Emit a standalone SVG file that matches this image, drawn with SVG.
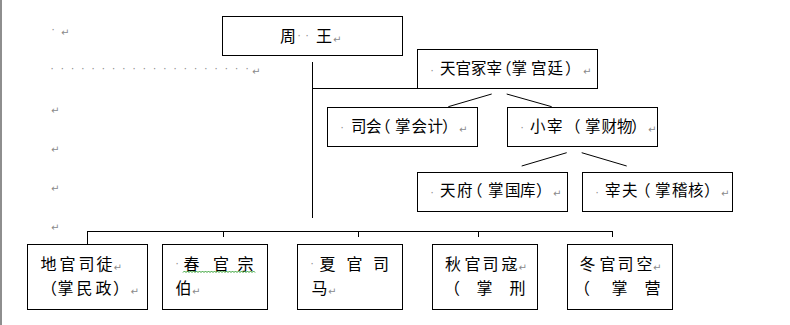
<svg xmlns="http://www.w3.org/2000/svg" width="790" height="325" viewBox="0 0 790 325">
<style>
.box{fill:#fff;stroke:#000;stroke-width:1}
.ln{stroke:#000;stroke-width:1;fill:none}
.t{font-family:"Noto Sans CJK SC","Noto Sans CJK JP",sans-serif;font-size:15.5px;fill:#000}
.b{font-family:"Noto Sans CJK SC","Noto Sans CJK JP",sans-serif;font-size:16px;fill:#000}
.m{font-family:"DejaVu Sans",sans-serif;font-size:10px;fill:#8a8a8a}
</style>
<rect width="790" height="325" fill="#fff"/>
<rect x="0" y="0" width="2" height="325" fill="#8e8e8e"/>

<g id="margin-marks">
<text class="m"><tspan x="51.4" y="32.6">·</tspan><tspan x="61" y="36">↵</tspan></text>
<text class="m" y="71.6" x="50.4 60.7 70.9 81.2 91.4 101.7 112 122.2 132.5 142.7 153 163.3 173.5 183.8 194 204.3 214.6 224.8 235.1 245.4">····················<tspan x="252" y="75">↵</tspan></text>
<text class="m" x="51" y="114">↵</text>
<text class="m" x="51" y="153">↵</text>
<text class="m" x="51" y="192">↵</text>
<text class="m" x="51" y="231">↵</text>
</g>

<g id="connectors">
<line class="ln" x1="312.5" y1="62" x2="312.5" y2="218"/>
<line class="ln" x1="312" y1="88.5" x2="417" y2="88.5"/>
<line class="ln" x1="491.7" y1="94" x2="448.3" y2="106.7"/>
<line class="ln" x1="506.7" y1="94" x2="551.7" y2="106.7"/>
<line class="ln" x1="566.7" y1="152.7" x2="521.7" y2="166"/>
<line class="ln" x1="581.7" y1="152.7" x2="626.7" y2="166"/>
<line class="ln" x1="87" y1="231.5" x2="613" y2="231.5"/>
<line class="ln" x1="87.5" y1="231" x2="87.5" y2="244"/>
<line class="ln" x1="223.5" y1="231" x2="223.5" y2="237"/>
<line class="ln" x1="358.5" y1="231" x2="358.5" y2="237"/>
<line class="ln" x1="478.5" y1="231" x2="478.5" y2="237"/>
<line class="ln" x1="612.5" y1="231" x2="612.5" y2="237"/>
</g>

<g id="zhouwang">
<rect class="box" x="222.5" y="16.5" width="180" height="39"/>
<text><tspan class="b" x="280" y="42">周</tspan><tspan class="m" x="297.4 305.4" y="38.6">··</tspan><tspan class="b" x="316" y="42">王</tspan><tspan class="m" x="333" y="43">↵</tspan></text>
</g>

<g id="tianguan">
<rect class="box" x="417.5" y="49.5" width="180" height="39"/>
<text><tspan class="m" x="430.4" y="73.6">·</tspan><tspan class="t" x="440 455.5 471 486.5 496 511.5 531 547.5 565" y="74">天官冢宰（掌宫廷）</tspan><tspan class="m" x="583" y="75">↵</tspan></text>
</g>

<g id="sihui">
<rect class="box" x="327.5" y="107.5" width="150" height="39"/>
<text><tspan class="m" x="340.4" y="130.6">·</tspan><tspan class="t" x="351 366 375 395 411.5 427.5 442" y="132">司会（掌会计）</tspan><tspan class="m" x="459" y="133">↵</tspan></text>
</g>

<g id="xiaozai">
<rect class="box" x="507.5" y="107.5" width="150" height="39"/>
<text><tspan class="m" x="520.4" y="130.6">·</tspan><tspan class="t" x="530 547 565 585 601.5 617 631" y="132">小宰（掌财物）</tspan><tspan class="m" x="648" y="133">↵</tspan></text>
</g>

<g id="tianfu">
<rect class="box" x="417.5" y="172.5" width="150" height="39"/>
<text><tspan class="m" x="430.4" y="195.6">·</tspan><tspan class="t" x="440 457 467 488 505 520 536" y="196">天府（掌国库）</tspan><tspan class="m" x="553" y="197">↵</tspan></text>
</g>

<g id="zaifu">
<rect class="box" x="582.5" y="172.5" width="150" height="39"/>
<text><tspan class="m" x="595.4" y="195.6">·</tspan><tspan class="t" x="605 622 635 655 672 688 704" y="196">宰夫（掌稽核）</tspan><tspan class="m" x="721" y="197">↵</tspan></text>
</g>

<g id="diguan">
<rect class="box" x="27.5" y="244.5" width="120" height="65"/>
<text><tspan class="b" x="40.5 59.5 78.5 96.5" y="270">地官司徒</tspan><tspan class="m" x="113.5" y="271">↵</tspan></text>
<text><tspan class="b" x="41 57.5 76.5 95.5 113" y="294">（掌民政）</tspan><tspan class="m" x="130.5" y="295">↵</tspan></text>
</g>

<g id="chunguan">
<rect class="box" x="162.5" y="244.5" width="105" height="65"/>
<text><tspan class="m" x="175.4" y="266.6">·</tspan><tspan class="b" x="183.5 213 237.5" y="270">春官宗</tspan></text>
<path d="M183 272.5 l1.5 -1.5 l1.5 1.5 l1.5 -1.5 l1.5 1.5 l1.5 -1.5 l1.5 1.5 l1.5 -1.5 l1.5 1.5 l1.5 -1.5 l1.5 1.5 l1.5 -1.5 l1.5 1.5 l1.5 -1.5 l1.5 1.5 l1.5 -1.5 l1.5 1.5 l1.5 -1.5 l1.5 1.5 l1.5 -1.5 l1.5 1.5 l1.5 -1.5 l1.5 1.5 l1.5 -1.5 l1.5 1.5 l1.5 -1.5 l1.5 1.5 l1.5 -1.5 l1.5 1.5 l1.5 -1.5 l1.5 1.5 l1.5 -1.5 l1.5 1.5 l1.5 -1.5 l1.5 1.5 l1.5 -1.5 l1.5 1.5 l1.5 -1.5 l1.5 1.5 l1.5 -1.5 l1.5 1.5 l1.5 -1.5 l1.5 1.5 l1.5 -1.5 l1.5 1.5 l1.5 -1.5 l1.5 1.5 l1.5 -1.5 l1.5 1.5" fill="none" stroke="#2e9e2e" stroke-width="1"/>
<text><tspan class="b" x="175.5" y="294">伯</tspan><tspan class="m" x="192" y="295">↵</tspan></text>
</g>

<g id="xiaguan">
<rect class="box" x="297.5" y="244.5" width="105" height="65"/>
<text><tspan class="m" x="310.4" y="266.6">·</tspan><tspan class="b" x="319.5 346.5 373" y="270">夏官司</tspan></text>
<text><tspan class="b" x="311.5" y="294">马</tspan><tspan class="m" x="328" y="295">↵</tspan></text>
</g>

<g id="qiuguan">
<rect class="box" x="432.5" y="244.5" width="105" height="65"/>
<text><tspan class="b" x="445 464.5 482.5 501.5" y="270">秋官司寇</tspan><tspan class="m" x="518.5" y="271">↵</tspan></text>
<text class="b" x="444 476.5 509.5" y="294">（掌刑</text>
</g>

<g id="dongguan">
<rect class="box" x="567.5" y="244.5" width="105" height="65"/>
<text><tspan class="b" x="579.5 599.5 617.5 636.5" y="270">冬官司空</tspan><tspan class="m" x="653" y="271">↵</tspan></text>
<text class="b" x="574 611.5 644.5" y="294">（掌营</text>
</g>
</svg>
